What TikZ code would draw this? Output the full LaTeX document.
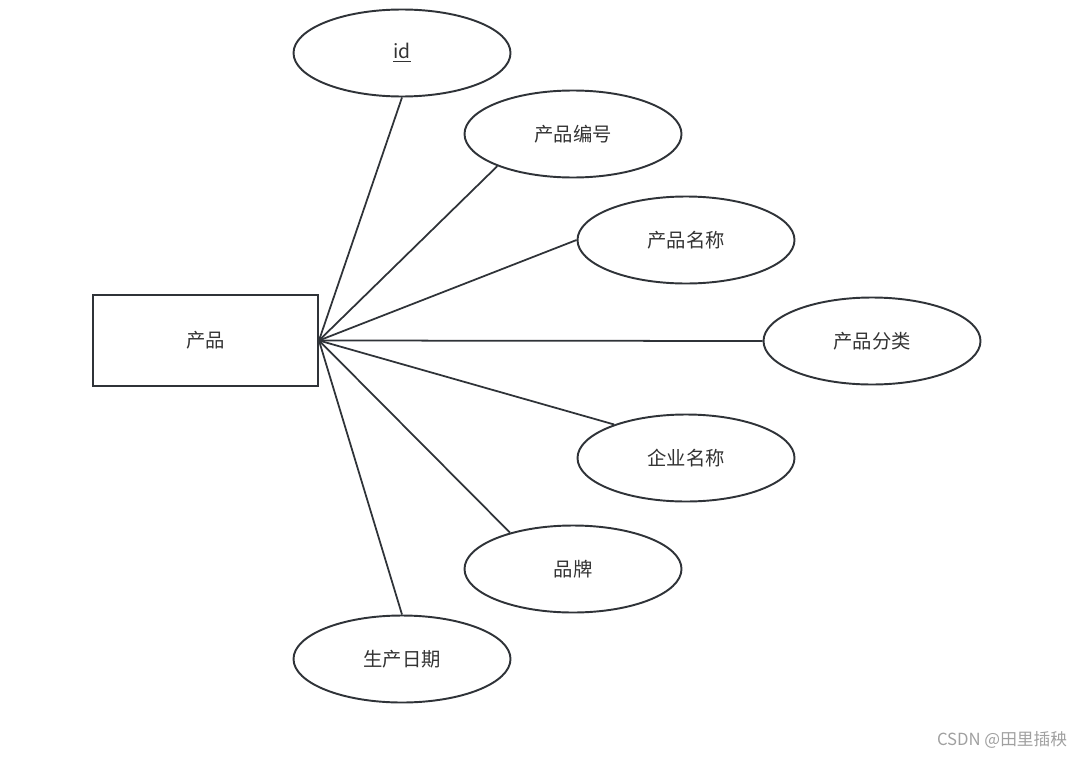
\documentclass[tikz,border=0pt]{standalone}
\usepackage{fontspec}
\setmainfont{Noto Sans CJK SC}
\usepackage{xcolor}
\usepackage{tikz}
\usetikzlibrary{shapes.geometric}

\definecolor{erline}{HTML}{2F3338}
\definecolor{ertext}{HTML}{333333}
\definecolor{wmark}{HTML}{A0A0A0}

\tikzset{
    entity/.style={rectangle,draw=erline,line width=1.1pt,minimum width=4.5cm,minimum height=1.82cm,text=ertext,font=\fontsize{11}{13}\selectfont},
    attr/.style={ellipse,draw=erline,line width=1.1pt,minimum width=4.34cm,minimum height=1.74cm,inner sep=0pt,text=ertext,font=\fontsize{11}{13}\selectfont},
    link/.style={draw=erline,line width=1pt}
}

\begin{document}
\begin{tikzpicture}
    \useasboundingbox (0,0) rectangle (21.72,15.14);

    \node[entity] (prod) at (4.11,8.33) {产品};

    \node[attr] (pid)   at (8.04,14.08) {\underline{id}};
    \node[attr] (pno)   at (11.46,12.46) {产品编号};
    \node[attr] (pname) at (13.72,10.34) {产品名称};
    \node[attr] (pcat)  at (17.44,8.32) {产品分类};
    \node[attr] (corp)  at (13.72,5.98) {企业名称};
    \node[attr] (brand) at (11.46,3.76) {品牌};
    \node[attr] (pdate) at (8.04,1.96) {生产日期};

    \draw[link] (prod.east) -- (pid.south);
    \draw[link] (prod.east) -- (pno.203);
    \draw[link] (prod.east) -- (pname.west);
    \draw[link] (prod.east) -- (pcat.west);
    \draw[link] (prod.east) -- (corp.155);
    \draw[link] (prod.east) -- (brand.150);
    \draw[link] (prod.east) -- (pdate.north);

    \node[text=wmark,font=\fontsize{9.5}{11}\selectfont] (mark) at (20.04,0.35) {CSDN @田里插秧};
\end{tikzpicture}
\end{document}
